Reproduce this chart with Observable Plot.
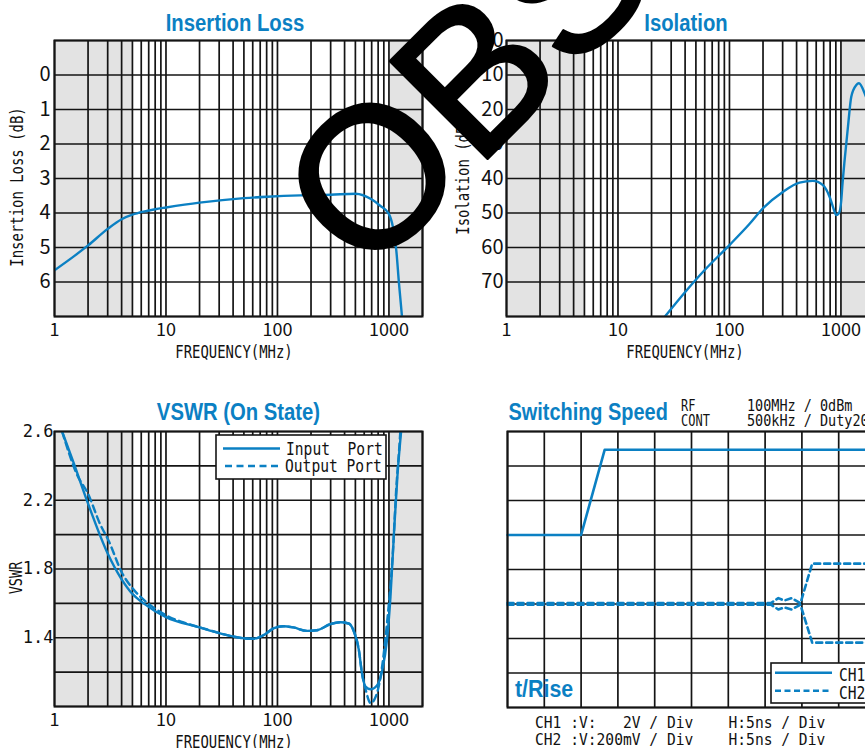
<!DOCTYPE html>
<html><head><meta charset="utf-8">
<script src="https://cdn.jsdelivr.net/npm/d3@7"></script>
<script src="https://cdn.jsdelivr.net/npm/@observablehq/plot@0.6"></script>
<style>
html,body{margin:0;padding:0;background:#fff;}
#wrap{position:relative;width:865px;height:748px;overflow:hidden;background:#fff;}
.panel{position:absolute;}
#overlay{position:absolute;left:0;top:0;pointer-events:none;}
</style></head><body><div id="wrap"></div>
<script>
// ---------- data ----------
const freqDomain = [1, 2000];
const gridFreqs = [1,2,3,4,5,6,7,8,9,10,20,30,40,50,60,70,80,90,100,200,300,400,500,600,700,800,900,1000,2000];
const freqTicks = [1, 10, 100, 1000];
const shadeStart = [1, 1000];
const shadeEnd = [5, 2000];

// Insertion loss
const ilFreq = [1, 1.5, 2, 3, 4, 5, 6.3, 8, 10, 20, 50, 81, 160, 300, 500, 704, 834, 995, 1086, 1164, 1231, 1309];
const ilLoss = [5.66, 5.25, 4.94, 4.46, 4.18, 4.05, 3.96, 3.89, 3.84, 3.70, 3.57, 3.53, 3.49, 3.47, 3.44, 3.61, 3.79, 4.02, 4.41, 5.08, 6.05, 7.0];
const ilGrid = [-1, 0, 1, 2, 3, 4, 5, 6, 7];
const ilTicks = [0, 1, 2, 3, 4, 5, 6];

// Isolation
const isoFreq = [26.4, 40.8, 61.7, 100, 151, 199, 301, 425, 561, 689, 791, 848, 908, 959, 1007, 1028, 1079, 1156, 1238, 1374, 1450, 1678, 1900];
const isoDb = [80, 72.6, 66.1, 59.3, 53.2, 48.7, 43.9, 41.2, 40.7, 41.9, 45.3, 48.2, 50.6, 50.1, 46.3, 42.4, 34.7, 25, 16.3, 12.9, 12.4, 16.3, 21];
const isoGrid = [0, 10, 20, 30, 40, 50, 60, 70, 80];
const isoTicks = [0, 10, 20, 30, 40, 50, 60, 70];

// VSWR
const vswrInFreq = [1.17, 1.48, 2, 3, 4, 5, 6.3, 10, 20, 30.6, 51.5, 61, 75, 92, 113, 139, 184, 226, 300, 368, 435, 480, 537, 574, 617, 685, 787, 870, 960, 1032, 1109, 1194, 1286];
const vswrIn = [2.6, 2.42, 2.18, 1.89, 1.74, 1.655, 1.6, 1.52, 1.46, 1.425, 1.396, 1.394, 1.415, 1.454, 1.467, 1.46, 1.44, 1.444, 1.48, 1.49, 1.483, 1.444, 1.33, 1.19, 1.116, 1.10, 1.125, 1.21, 1.386, 1.638, 2.005, 2.35, 2.6];
const vswrOutFreq = [1.17, 1.59, 2, 2.57, 3.05, 4.05, 5.13, 6.75, 10, 15.4, 23.4, 35.3, 51.5, 61, 75, 92, 113, 139, 184, 226, 300, 368, 435, 480, 537, 574, 617, 685, 740, 840, 960, 1087, 1160, 1250, 1265];
const vswrOut = [2.6, 2.35, 2.237, 2.06, 1.966, 1.775, 1.68, 1.605, 1.531, 1.483, 1.448, 1.415, 1.396, 1.394, 1.415, 1.454, 1.467, 1.46, 1.44, 1.444, 1.48, 1.49, 1.483, 1.444, 1.33, 1.19, 1.10, 1.02, 1.04, 1.17, 1.483, 1.908, 2.256, 2.546, 2.6];
const vswrGrid = [1.0, 1.2, 1.4, 1.6, 1.8, 2.0, 2.2, 2.4, 2.6];
const vswrTicks = [1.4, 1.8, 2.2, 2.6];
const vswrLegend = ["Input  Port", "Output Port"];

// Switching speed (x: ns, 5 ns/div; y: divisions from bottom)
const timeGrid = [0, 5, 10, 15, 20, 25, 30, 35, 40, 45, 50];
const divGrid = [0, 1, 2, 3, 4, 5, 6, 7, 8];
const ch1Time = [0, 10, 13.2, 50];
const ch1Div = [5, 5, 7.47, 7.47];
const ch2Time = [0, 35.8, 36.8, 37.6, 38.6, 39.8, 41.4, 50];
const ch2UpDiv = [3.03, 3.03, 3.17, 3.1, 3.17, 3.02, 4.17, 4.17];
const ch2DnDiv = [2.98, 2.98, 2.84, 2.9, 2.84, 2.98, 1.88, 1.88];
const swLegend = ["CH1", "CH2"];
const swHeader = [["RF", "100MHz / 0dBm"], ["CONT", "500kHz / Duty20%"]];
const swCaption = ["CH1 :V:   2V / Div    H:5ns / Div", "CH2 :V:200mV / Div    H:5ns / Div"];

const titles = ["Insertion Loss", "Isolation", "VSWR (On State)", "Switching Speed", "t/Rise"];

// ---------- drawing ----------
const BLUE = "#0b80c3";
const GRID = "#141414";
const SHADE = "#e3e3e3";
const wrap = document.getElementById("wrap");
const zip = (xs, ys) => xs.map((x, i) => ({x, y: ys[i]}));
const shade = shadeStart.map((a, i) => ({a, b: shadeEnd[i]}));

function place(node, left, top) {
  const d = document.createElement("div");
  d.className = "panel";
  d.style.left = left + "px";
  d.style.top = top + "px";
  d.appendChild(node);
  wrap.appendChild(d);
}

function freqPanel(o) {
  return Plot.plot({
    width: o.width, height: o.height,
    marginLeft: o.ml, marginRight: o.mr, marginTop: o.mt, marginBottom: o.mb,
    x: {type: "log", domain: freqDomain},
    y: {domain: o.yDomain, reverse: o.reverse},
    style: {fontFamily: "'Noto Sans CJK JP', sans-serif", fontSize: "18px", color: "#111", background: "transparent", maxWidth: "none", overflow: "visible"},
    marks: [
      Plot.rect(shade, {x1: "a", x2: "b", y1: o.yDomain[0], y2: o.yDomain[1], fill: SHADE}),
      Plot.ruleX(gridFreqs, {stroke: GRID, strokeWidth: 1.7}),
      Plot.ruleY(o.yGrid, {stroke: GRID, strokeWidth: 1.7}),
      ...o.lines.map(l => Plot.line(l.data, {x: "x", y: "y", stroke: BLUE, strokeWidth: 2.4, strokeDasharray: l.dash, curve: "monotone-x", clip: true})),
      Plot.frame({stroke: GRID, strokeWidth: 2}),
      Plot.axisX({ticks: freqTicks, tickSize: 0, tickPadding: 7, tickFormat: d => String(d), label: null, fontSize: 18}),
      Plot.axisY({ticks: o.yTicks, tickSize: 0, tickPadding: o.yPad, tickFormat: o.yFormat, label: null, fontSize: o.yFontSize, fontFamily: o.yFont})
    ]
  });
}

place(freqPanel({width: 432, height: 370, ml: 54, mr: 10, mt: 40, mb: 54,
  yDomain: [-1, 7], reverse: true, yGrid: ilGrid, yTicks: ilTicks, yFormat: d => String(d), yFontSize: 20, yPad: 4, yFont: "'Noto Sans CJK JP', sans-serif",
  lines: [{data: zip(ilFreq, ilLoss)}]}), 0, 0);

place(freqPanel({width: 453, height: 370, ml: 74, mr: 11, mt: 40, mb: 54,
  yDomain: [0, 80], reverse: true, yGrid: isoGrid, yTicks: isoTicks, yFormat: d => String(d), yFontSize: 20, yPad: 3, yFont: "'Noto Sans CJK JP', sans-serif",
  lines: [{data: zip(isoFreq, isoDb)}]}), 432, 0);

place(freqPanel({width: 432, height: 358, ml: 54, mr: 10, mt: 41, mb: 42,
  yDomain: [1.0, 2.6], reverse: false, yGrid: vswrGrid, yTicks: vswrTicks, yFormat: d => d.toFixed(1), yFontSize: 17, yPad: 1, yFont: "'DejaVu Sans Mono', monospace",
  lines: [{data: zip(vswrInFreq, vswrIn)}, {data: zip(vswrOutFreq, vswrOut), dash: "7,4.5"}]}), 0, 390);

place(Plot.plot({
  width: 453, height: 358, marginLeft: 75, marginRight: 10, marginTop: 41, marginBottom: 41,
  x: {domain: [0, 50], axis: null}, y: {domain: [0, 8], axis: null},
  style: {background: "transparent", maxWidth: "none", overflow: "visible"},
  marks: [
    Plot.ruleX(timeGrid, {stroke: GRID, strokeWidth: 1.7}),
    Plot.ruleY(divGrid, {stroke: GRID, strokeWidth: 1.7}),
    Plot.line(zip(ch1Time, ch1Div), {x: "x", y: "y", stroke: BLUE, strokeWidth: 2.6}),
    Plot.line(zip(ch2Time, ch2UpDiv), {x: "x", y: "y", stroke: BLUE, strokeWidth: 2.6, strokeDasharray: "6,4"}),
    Plot.line(zip(ch2Time, ch2DnDiv), {x: "x", y: "y", stroke: BLUE, strokeWidth: 2.6, strokeDasharray: "6,4"}),
    Plot.frame({stroke: GRID, strokeWidth: 2})
  ]
}), 432, 390);

// ---------- overlay: titles, axis labels, legends, notes, watermark ----------
const MONO = "'DejaVu Sans Mono', monospace";
const SANS = "'Liberation Sans', Arial, sans-serif";
function txt(s, x, y, o = {}) {
  const tr = `translate(${x},${y})` + (o.rot ? ` rotate(${o.rot})` : "") + ` scale(${o.sx || 1},1)`;
  return `<text transform="${tr}" text-anchor="${o.anchor || "start"}" font-family="${o.font || MONO}" font-size="${o.size || 16}" font-weight="${o.weight || "normal"}" fill="${o.fill || "#111"}" style="white-space:pre">${s}</text>`;
}
let s = "";
// titles
s += txt(titles[0], 235, 31, {anchor: "middle", font: SANS, size: 24, weight: "bold", fill: BLUE, sx: 0.845});
s += txt(titles[1], 686, 31, {anchor: "middle", font: SANS, size: 24, weight: "bold", fill: BLUE, sx: 0.845});
s += txt(titles[2], 238.5, 420, {anchor: "middle", font: SANS, size: 24, weight: "bold", fill: BLUE, sx: 0.845});
s += txt(titles[3], 508.5, 420, {font: SANS, size: 24, weight: "bold", fill: BLUE, sx: 0.83});
s += txt(titles[4], 515, 697, {font: SANS, size: 24, weight: "bold", fill: BLUE, sx: 0.89});
// axis labels
s += txt("FREQUENCY(MHz)", 234, 358, {anchor: "middle", size: 17, sx: 0.82});
s += txt("FREQUENCY(MHz)", 685, 358, {anchor: "middle", size: 17, sx: 0.82});
s += txt("FREQUENCY(MHz)", 234, 748, {anchor: "middle", size: 17, sx: 0.82});
s += txt("Insertion Loss (dB)", 22.5, 187, {anchor: "middle", size: 17, sx: 0.82, rot: -90});
s += txt("Isolation (dB)", 468.5, 176, {anchor: "middle", size: 17, sx: 0.82, rot: -90});
s += txt("VSWR", 21.5, 578, {anchor: "middle", size: 17, sx: 0.8, rot: -90});
// VSWR legend
s += `<rect x="216" y="435" width="170" height="44" fill="#fff" stroke="${GRID}" stroke-width="1.6"/>`;
s += `<line x1="223" x2="280" y1="448.5" y2="448.5" stroke="${BLUE}" stroke-width="2.6"/>`;
s += `<line x1="225" x2="280" y1="466" y2="466" stroke="${BLUE}" stroke-width="2.6" stroke-dasharray="7,4.5"/>`;
s += txt(vswrLegend[0], 286, 454.5, {size: 17, sx: 0.86});
s += txt(vswrLegend[1], 285, 472, {size: 17, sx: 0.86});
// Switching legend
s += `<rect x="771" y="663" width="130" height="40" fill="#fff" stroke="${GRID}" stroke-width="1.6"/>`;
s += `<line x1="775" x2="832" y1="672.7" y2="672.7" stroke="${BLUE}" stroke-width="2.6"/>`;
s += `<line x1="775" x2="832" y1="690.7" y2="690.7" stroke="${BLUE}" stroke-width="2.6" stroke-dasharray="6,3.5"/>`;
s += txt(swLegend[0], 839, 681, {size: 17, sx: 0.86});
s += txt(swLegend[1], 839, 698.5, {size: 17, sx: 0.86});
// Switching header and caption
s += txt(swHeader[0][0], 681, 411, {size: 15, sx: 0.8});
s += txt(swHeader[1][0], 681, 426, {size: 15, sx: 0.8});
s += txt(swHeader[0][1], 747, 411, {size: 15.5, sx: 0.87});
s += txt(swHeader[1][1], 747, 426, {size: 15.5, sx: 0.87});
s += txt(swCaption[0], 535, 728, {size: 16, sx: 0.914});
s += txt(swCaption[1], 535, 745, {size: 16, sx: 0.914});
// watermark
s += `<text transform="translate(366,280) rotate(-45)" font-family="${SANS}" font-size="200" fill="#000" stroke="#000" stroke-width="3" stroke-linejoin="round">OBSOLETE</text>`;

const ov = document.createElementNS("http://www.w3.org/2000/svg", "svg");
ov.setAttribute("id", "overlay");
ov.setAttribute("width", 865);
ov.setAttribute("height", 748);
ov.innerHTML = s;
wrap.appendChild(ov);
</script></body></html>
